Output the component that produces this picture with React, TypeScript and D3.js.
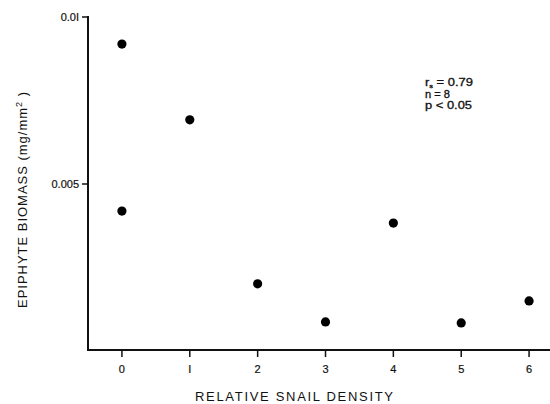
import React from "react";
import * as d3 from "d3";

const snailDensity = [0, 0, 1, 2, 3, 4, 5, 6];
const biomass = [0.00919, 0.00419, 0.00692, 0.00201, 0.00087, 0.00383, 0.00084, 0.0015];
const xTicks = [0, 1, 2, 3, 4, 5, 6];
const xTickLabels = ["0", "I", "2", "3", "4", "5", "6"];
const yTicks = [0.005, 0.01];
const yTickLabels = ["0.005", "0.0I"];
const statLines = ["= 0.79", "n = 8", "p < 0.05"];

const W = 550;
const H = 404;
const font = "'Liberation Sans', Arial, Helvetica, sans-serif";

export default function App() {
  const x = d3.scaleLinear().domain([-0.5, 6.5]).range([88, 563]);
  const y = d3.scaleLinear().domain([0, 0.01]).range([351, 17]);

  return (
    <svg
      width={W}
      height={H}
      style={{ position: "absolute", left: 0, top: 0, background: "#fff" }}
      fontFamily={font}
    >
      {/* axes */}
      <line x1={88} x2={88} y1={16} y2={351} stroke="#111" strokeWidth={2} />
      <line x1={87} x2={550} y1={350} y2={350} stroke="#111" strokeWidth={2} />
      {yTicks.map((t, i) => (
        <g key={"yt" + i}>
          <line x1={82} x2={88} y1={y(t)} y2={y(t)} stroke="#111" strokeWidth={1.5} />
          <text x={79} y={y(t)} dy="0.35em" textAnchor="end" fontSize={11} fill="#111" stroke="#111" strokeWidth={0.2}>
            {yTickLabels[i]}
          </text>
        </g>
      ))}
      {xTicks.map((t, i) => (
        <g key={"xt" + i}>
          <line x1={x(t)} x2={x(t)} y1={350} y2={357} stroke="#111" strokeWidth={1.5} />
          <text x={x(t)} y={373} textAnchor="middle" fontSize={11} fill="#111" stroke="#111" strokeWidth={0.2}>
            {xTickLabels[i]}
          </text>
        </g>
      ))}
      {/* points */}
      {snailDensity.map((d, i) => (
        <circle key={"p" + i} cx={x(d)} cy={y(biomass[i])} r={4.6} fill="#000" />
      ))}
      {/* axis titles */}
      <text
        x={(195 + 393) / 2}
        y={401}
        textAnchor="middle"
        fontSize={13}
        fill="#111"
        textLength={198}
        lengthAdjust="spacing"
      >
        RELATIVE SNAIL DENSITY
      </text>
      <text
        transform="translate(27,200) rotate(-90)"
        textAnchor="middle"
        fontSize={13}
        fill="#111"
        textLength={216}
        lengthAdjust="spacing"
      >
        EPIPHYTE BIOMASS (mg/mm<tspan dy={-5} fontSize={9}>2</tspan><tspan dy={5}> )</tspan>
      </text>
      {/* stats */}
      <g fontSize={10.5} fill="#111" stroke="#111" strokeWidth={0.3}>
        <text x={425} y={86} textLength={48} lengthAdjust="spacingAndGlyphs">
          r<tspan fontSize={6} dy={2}>s</tspan>
          <tspan dy={-2}> {statLines[0]}</tspan>
        </text>
        <text x={425} y={97.5} textLength={25} lengthAdjust="spacingAndGlyphs">{statLines[1]}</text>
        <text x={425} y={109} textLength={47} lengthAdjust="spacingAndGlyphs">{statLines[2]}</text>
      </g>
    </svg>
  );
}
